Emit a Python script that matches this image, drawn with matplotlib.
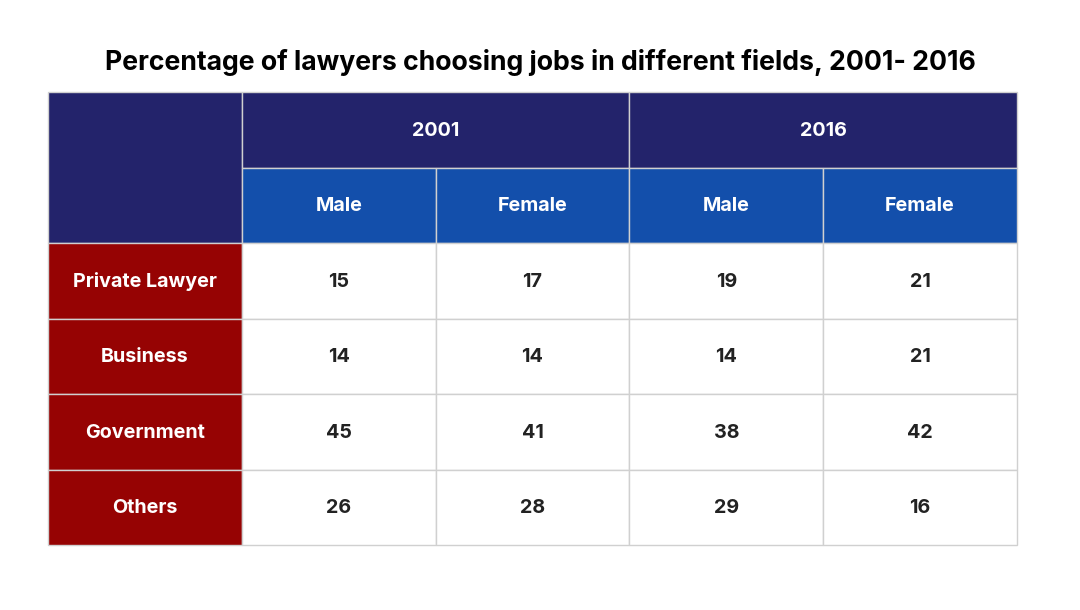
import matplotlib.pyplot as plt
from matplotlib.patches import Rectangle

plt.rcParams['font.family'] = ['Inter', 'DejaVu Sans']

title = "Percentage of lawyers choosing jobs in different fields, 2001- 2016"
years = ["2001", "2016"]
genders = ["Male", "Female"]
fields = ["Private Lawyer", "Business", "Government", "Others"]
# columns: 2001 male, 2001 female, 2016 male, 2016 female
values = [
    [15, 17, 19, 21],
    [14, 14, 14, 21],
    [45, 41, 38, 42],
    [26, 28, 29, 16],
]

navy = "#23236b"
blue = "#134fab"
red = "#960303"
grid = "#d0d0d0"
ink = "#222222"

fig = plt.figure(figsize=(10.8, 6.1), dpi=100)
fig.text(540 / 1080, 1 - 63 / 610, title, ha="center", va="center",
         fontsize=19.2, fontweight="bold", color="black")

ax = fig.add_axes([48 / 1080, (610 - 545) / 610, (1017 - 48) / 1080, (545 - 92) / 610])
ax.set_xlim(0, 5)
ax.set_ylim(6, 0)
ax.axis("off")

def cell(x, y, w, h, fc, text="", tc="white"):
    ax.add_patch(Rectangle((x, y), w, h, facecolor=fc, edgecolor=grid, lw=1,
                           clip_on=False))
    if text:
        ax.text(x + w / 2, y + h / 2 + 0.01, text, ha="center", va="center",
                fontsize=14.2, fontweight="bold", color=tc)

# header corner
cell(0, 0, 1, 2, navy)
for i, yr in enumerate(years):
    cell(1 + 2 * i, 0, 2, 1, navy, yr)
    for j, g in enumerate(genders):
        cell(1 + 2 * i + j, 1, 1, 1, blue, g)

for r, f in enumerate(fields):
    cell(0, 2 + r, 1, 1, red, f)
    for c, v in enumerate(values[r]):
        cell(1 + c, 2 + r, 1, 1, "white", str(v), ink)

fig.savefig("out.png", dpi=100, facecolor="white")
